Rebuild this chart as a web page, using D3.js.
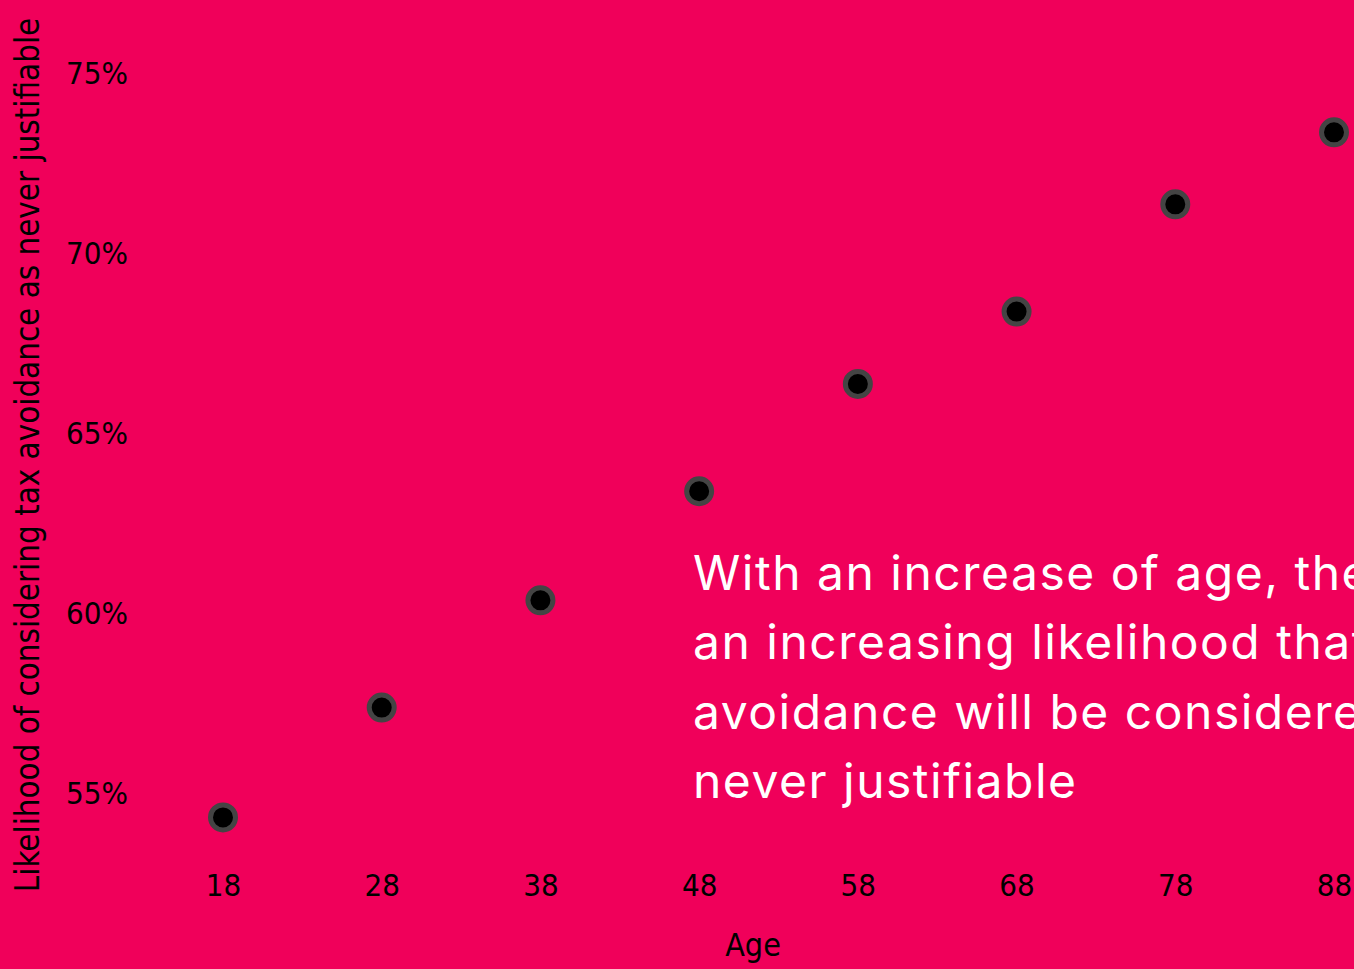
<!DOCTYPE html>
<html>
<head>
<meta charset="utf-8">
<script src="https://cdn.jsdelivr.net/npm/d3@7"></script>
<style>
  html, body { margin: 0; padding: 0; background: #F0005A; overflow: hidden; }
  svg { display: block; }
</style>
</head>
<body>
<svg id="chart" width="1354" height="969"></svg>
<script>
// Ages on the horizontal axis
const ages = [18, 28, 38, 48, 58, 68, 78, 88];
// Share who consider tax avoidance never justifiable (%)
const likelihood = [54.35, 57.4, 60.38, 63.41, 66.39, 68.4, 71.38, 73.38];
// Tick values on the vertical axis (%)
const yTicks = [55, 60, 65, 70, 75];
// Annotation lines
const noteLines = [
  "With an increase of age, there is",
  "an increasing likelihood that tax",
  "avoidance will be considered as",
  "never justifiable"
];
const yTitle = "Likelihood of considering tax avoidance as never justifiable";
const xTitle = "Age";

const W = 1354, H = 969;
const svg = d3.select("#chart");
svg.append("rect").attr("width", W).attr("height", H).attr("fill", "#F0005A");

const x = d3.scaleLinear().domain([18, 88]).range([223, 1334]);
const y = d3.scaleLinear().domain([55, 75]).range([794, 74]);

const tickFont = "'DejaVu Sans Condensed', 'DejaVu Sans', sans-serif";

// x axis (labels only)
const gx = svg.append("g")
  .attr("transform", "translate(0,870)")
  .call(d3.axisBottom(x).tickValues(ages).tickSize(0).tickPadding(0).tickFormat(d3.format("d")));
gx.select(".domain").remove();
gx.selectAll("text")
  .attr("dy", "0.71em")
  .attr("y", 4)
  .style("font-family", tickFont)
  .style("font-size", "31px")
  .attr("fill", "#000");

// y axis (labels only)
const gy = svg.append("g")
  .attr("transform", "translate(128,0)")
  .call(d3.axisLeft(y).tickValues(yTicks).tickSize(0).tickPadding(0).tickFormat(d => d + "%"));
gy.select(".domain").remove();
gy.selectAll("text")
  .style("font-family", tickFont)
  .style("font-size", "31px")
  .attr("fill", "#000");

// axis titles
svg.append("text")
  .attr("transform", "translate(39,455) rotate(-90)")
  .attr("text-anchor", "middle")
  .style("font-family", tickFont)
  .style("font-size", "32.8px")
  .attr("fill", "#000")
  .text(yTitle);

svg.append("text")
  .attr("x", 753).attr("y", 956)
  .attr("text-anchor", "middle")
  .style("font-family", tickFont)
  .style("font-size", "32px")
  .attr("fill", "#000")
  .text(xTitle);

// points
svg.append("g").selectAll("circle")
  .data(ages.map((a, i) => ({ age: a, v: likelihood[i] })))
  .join("circle")
  .attr("cx", d => x(d.age))
  .attr("cy", d => y(d.v))
  .attr("r", 12.5)
  .attr("fill", "#000")
  .attr("stroke", "#444")
  .attr("stroke-width", 5);

// annotation (runs past the right edge)
const note = svg.append("text")
  .attr("x", 693)
  .style("font-family", "'Inter', 'Noto Sans', sans-serif")
  .style("font-size", "48px")
  .style("letter-spacing", "1.5px")
  .attr("fill", "#fff");
noteLines.forEach((t, i) => {
  note.append("tspan").attr("x", 693).attr("y", 590 + i * 69.3).text(t);
});
</script>
</body>
</html>
